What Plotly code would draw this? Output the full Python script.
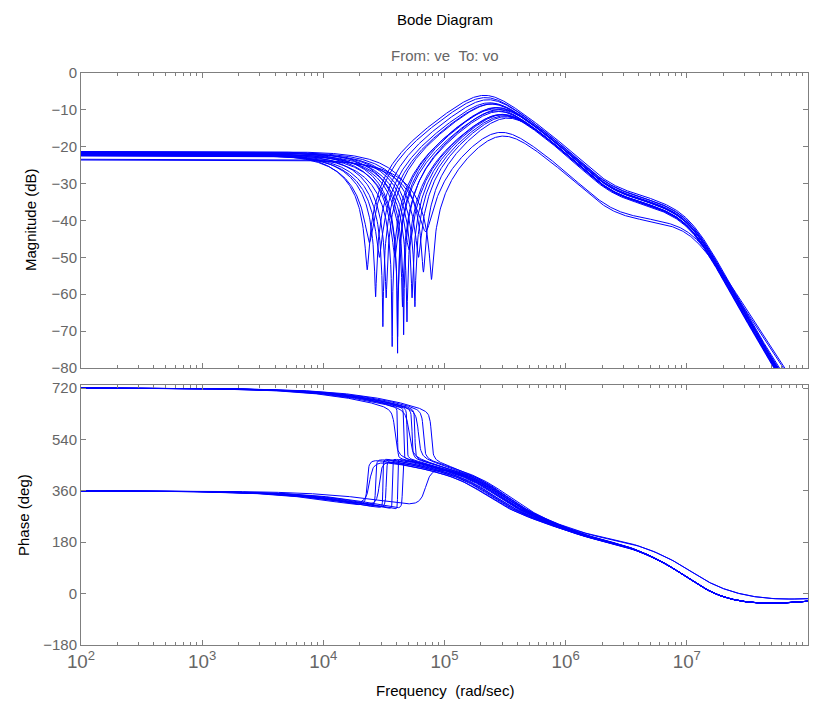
import numpy as np
import plotly.graph_objects as go

# per-curve values
# wz: notch frequency (rad/s), depth: notch bottom (dB), dc: low-frequency gain (dB)
# p1: first pole (rad/s), wc: resonance that sets the peak (rad/s)

# notch zeros in the left half plane (phase starts at 360)
lhp_wz = [2.3e4, 2.4e4, 2.7e4, 2.9e4, 3.1e4, 3.3e4, 3.7e4, 4.1e4, 4.5e4, 7.0e4]
lhp_depth = [-53.4, -46, -60.7, -50, -68.8, -61, -74.2, -76, -63.4, -43]
lhp_dc = [-21.6, -22.0, -21.9, -22.3, -22.2, -21.8, -22.5, -21.5, -22.0, -23.4]
lhp_p1 = [1.77e4, 1.85e4, 2.07e4, 2.21e4, 2.35e4, 2.50e4, 2.79e4, 3.07e4, 3.36e4, 5.11e4]
lhp_wc = [2.14e5, 2.18e5, 2.29e5, 2.36e5, 2.42e5, 2.48e5, 2.60e5, 2.71e5, 2.81e5, 2.86e5]

# notch zeros in the right half plane (phase starts at 720)
rhp_wz = [3.9e4, 4.1e4, 4.6e4, 4.9e4, 5.1e4, 5.4e4, 5.7e4, 6.1e4, 6.7e4, 7.8e4]
rhp_depth = [-50, -71.5, -71, -67.5, -48, -61, -63.4, -50, -54, -56]
rhp_dc = [-21.8, -22.4, -21.3, -22.3, -22.0, -21.7, -21.7, -21.5, -21.3, -23.6]
rhp_p1 = [2.93e4, 3.07e4, 3.43e4, 3.64e4, 3.78e4, 3.99e4, 4.20e4, 4.48e4, 4.90e4, 5.66e4]
rhp_wc = [2.65e5, 2.71e5, 2.83e5, 2.90e5, 2.96e5, 3.02e5, 3.09e5, 3.17e5, 3.30e5, 2.96e5]

# the two low curves of the magnitude plot
outliers = [7.0e4, 7.8e4]

# shared plant parameters
ZETA_C = 0.58
DIP_W, DIP_ZN, DIP_ZD = 2.3e6, 0.7, 1.2
A_AP = 2.5e6
WD, ZETA_D = 1.1e7, 0.6
WE = 8e7
LEAD_Z, LEAD_P = 8e6, 2.4e7

w_base = np.logspace(2, 8, 1400)


def second(w, w0, zeta):
    r = w / w0
    return np.abs(1 - r**2 + 2j * zeta * r), np.degrees(np.arctan2(2 * zeta * r, 1 - r**2))


def first(w, w0):
    return np.abs(1 + 1j * w / w0), np.degrees(np.arctan(w / w0))


def rest(w, dc, p1, wc, odd):
    """everything except the notch zeros: magnitude (linear) and phase (deg)"""
    mag = 10 ** (dc / 20) * np.ones_like(w)
    ph = np.zeros_like(w)
    m, p = first(w, p1)
    mag /= m; ph -= p
    m, p = second(w, wc, ZETA_C)
    mag /= m; ph -= p
    m, p = second(w, DIP_W, DIP_ZN)
    mag *= m; ph += p
    m, p = second(w, DIP_W, DIP_ZD)
    mag /= m; ph -= p
    ph -= 2 * np.degrees(np.arctan(w / A_AP))
    m, p = second(w, WD, ZETA_D)
    mag /= m; ph -= p
    m, p = first(w, WE)
    mag *= m; ph += p
    if odd:
        m, p = first(w, LEAD_Z)
        mag *= m; ph += p
        m, p = first(w, LEAD_P)
        mag /= m; ph -= p
    return mag, ph


def bode(wz, depth, dc, p1, wc, side):
    odd = wz in outliers
    w = np.sort(np.concatenate([w_base, [wz], wz * (1 + np.array([-1, 1]) * 0.002)]))
    g_mag, _ = rest(np.array([wz]), dc, p1, wc, odd)
    zeta = 0.5 * 10 ** ((depth - 20 * np.log10(g_mag[0])) / 20)
    mag, ph = rest(w, dc, p1, wc, odd)
    r = w / wz
    mag *= np.abs(1 - r**2 + 2j * zeta * r)
    ph += np.degrees(np.arctan2(side * 2 * zeta * r, 1 - r**2))
    start = 360 if side > 0 else 720
    return w, 20 * np.log10(mag), ph + start


fig = go.Figure()
curves = [c + (1,) for c in zip(lhp_wz, lhp_depth, lhp_dc, lhp_p1, lhp_wc)]
curves += [c + (-1,) for c in zip(rhp_wz, rhp_depth, rhp_dc, rhp_p1, rhp_wc)]
for wz, depth, dc, p1, wc, side in curves:
    w, db, deg = bode(wz, depth, dc, p1, wc, side)
    fig.add_trace(go.Scatter(x=w, y=db, mode="lines", line=dict(color="#0000ff", width=1),
                             xaxis="x", yaxis="y", hoverinfo="skip"))
    fig.add_trace(go.Scatter(x=w, y=deg, mode="lines", line=dict(color="#0000ff", width=1),
                             xaxis="x2", yaxis="y2", hoverinfo="skip"))

axis_gray = "#7f7f7f"
font = "Liberation Sans, Arial, sans-serif"
common = dict(showline=True, linecolor=axis_gray, linewidth=1, mirror="ticks",
              ticks="inside", ticklen=5, tickcolor=axis_gray, showgrid=False,
              zeroline=False, tickfont=dict(family=font, size=15, color="#666666"))
xcommon = dict(common, type="log", range=[2, 8], dtick=1, exponentformat="power",
               minor=dict(ticks="inside", ticklen=3, tickcolor=axis_gray))

# the page body has an 8px margin, so the figure is drawn 8px in
fig.update_layout(
    width=814, height=699,
    margin=dict(l=73, r=14, t=65, b=62),
    paper_bgcolor="white", plot_bgcolor="white",
    showlegend=False,
    xaxis=dict(xcommon, domain=[0, 1], anchor="y", matches="x2", showticklabels=False),
    yaxis=dict(common, domain=[0.4843, 1], range=[-80, 0], dtick=10, anchor="x"),
    xaxis2=dict(xcommon, domain=[0, 1], anchor="y2"),
    yaxis2=dict(common, domain=[0, 0.4545], range=[-180, 730.5],
                tickvals=[-180, 0, 180, 360, 540, 720], anchor="x2"),
)


def label(text, x, y, color="black", angle=0):
    fig.add_annotation(text=text, x=x, y=y, xref="paper", yref="paper",
                       showarrow=False, textangle=angle, xanchor="center", yanchor="middle",
                       font=dict(family=font, size=15, color=color))


label("Bode Diagram", 0.5, (645 - 19) / 572)
label("From: ve \u00a0To: vo", 0.5, (645 - 56) / 572, color="#666666")
label("Frequency \u00a0(rad/sec)", 0.5, (645 - 690) / 572)
label("Magnitude (dB)", (30 - 81) / 727, (645 - 220) / 572, angle=-90)
label("Phase (deg)", (23 - 81) / 727, (645 - 515) / 572, angle=-90)

fig.write_html("out.html")
